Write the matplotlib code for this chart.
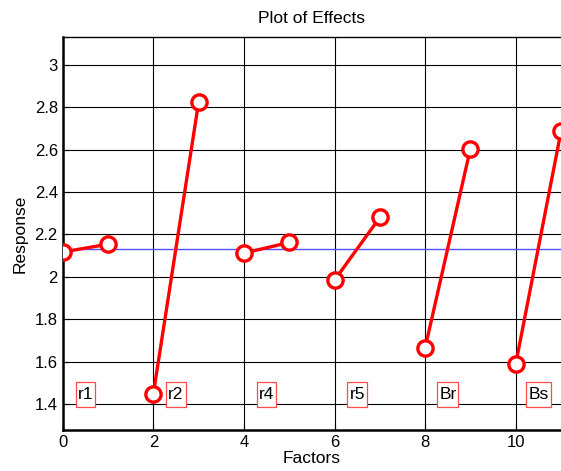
import matplotlib
matplotlib.use("Agg")
import matplotlib.pyplot as plt
from matplotlib.path import Path

plt.rcParams['font.family'] = ['Liberation Sans', 'DejaVu Sans']

factors = ["r1", "r2", "r4", "r5", "Br", "Bs"]
low_x = [0, 2, 4, 6, 8, 10]
high_x = [1, 3, 5, 7, 9, 11]
low_vals = [2.117, 1.447, 2.112, 1.984, 1.664, 1.588]
high_vals = [2.154, 2.824, 2.162, 2.280, 2.605, 2.686]
mean_response = 2.131
label_x = [0.5, 2.5, 4.5, 6.5, 8.5, 10.5]
label_y = 1.443
xticks = [0, 2, 4, 6, 8, 10]
yticks = [1.4, 1.6, 1.8, 2.0, 2.2, 2.4, 2.6, 2.8, 3.0]
ytick_labels = ["1.4", "1.6", "1.8", "2", "2.2", "2.4", "2.6", "2.8", "3"]


def label_box(x0, y0, width, height, mutation_size):
    px = 0.12 * mutation_size
    py = 0.28 * mutation_size
    xa, xb = x0 - px, x0 + width + px
    ya, yb = y0 - py, y0 + height + py
    return Path([(xa, ya), (xb, ya), (xb, yb), (xa, yb), (xa, ya)], closed=True)


fig = plt.figure(figsize=(5.61, 4.71), dpi=100)
ax = fig.add_axes([0.1118, 0.087, 1.0 - 0.1118, 0.835])

ax.set_xlim(0, 11)
ax.set_ylim(1.277, 3.133)
ax.set_xticks(xticks)
ax.set_xticklabels([str(v) for v in xticks])
ax.set_yticks(yticks)
ax.set_yticklabels(ytick_labels)
ax.grid(True, color='black', linewidth=0.8)
ax.set_axisbelow(True)

ax.axhline(mean_response, color='#5050ff', linewidth=1.0, zorder=2)

for xl, xh, vl, vh in zip(low_x, high_x, low_vals, high_vals):
    ax.plot([xl, xh], [vl, vh], color='red', linewidth=2.4, marker='o',
            markersize=11, markerfacecolor='white', markeredgecolor='red',
            markeredgewidth=2.4, zorder=3)

for name, lx in zip(factors, label_x):
    ax.text(lx, label_y, name, ha='center', va='center', fontsize=12.5,
            bbox=dict(boxstyle=label_box, facecolor='white',
                      edgecolor='#ff4a4a', linewidth=0.9), zorder=4)

for s in ['left', 'bottom']:
    ax.spines[s].set_linewidth(1.8)
ax.spines['top'].set_linewidth(1.0)
ax.spines['right'].set_visible(False)
ax.tick_params(direction='in', labelsize=12, length=4)

ax.set_title("Plot of Effects", fontsize=12.5, pad=10)
ax.set_xlabel("Factors", fontsize=12.5, labelpad=1)
ax.set_ylabel("Response", fontsize=12.5, labelpad=5)

fig.savefig("out.png", dpi=100)
